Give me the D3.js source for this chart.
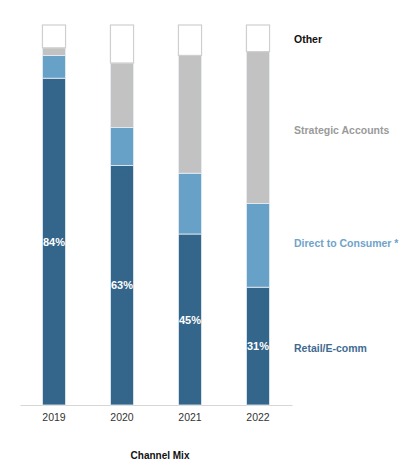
<!DOCTYPE html>
<html>
<head>
<meta charset="utf-8">
<script src="https://cdn.jsdelivr.net/npm/d3@7"></script>
<style>
  html, body { margin: 0; padding: 0; background: #fff; }
  svg { display: block; font-family: "Liberation Sans", Arial, Helvetica, sans-serif; }
</style>
</head>
<body>
<svg id="chart" width="411" height="470"></svg>
<script>
const years = ["2019", "2020", "2021", "2022"];
const retail = [86, 63, 45, 31];
const dtc = [6, 10, 16, 22];
const strategic = [2, 17, 31, 40];
const other = [6, 10, 8, 7];
const retailLabels = ["84%", "63%", "45%", "31%"];
const seriesNames = ["Retail/E-comm", "Direct to Consumer *", "Strategic Accounts", "Other"];
const seriesKeys = ["retail", "dtc", "strategic", "other"];
const chartTitle = "Channel Mix";

const colors = { retail: "#34658a", dtc: "#68a1c8", strategic: "#c2c2c2", other: "#ffffff" };
const legendColors = { retail: "#3e6b91", dtc: "#6fa3c9", strategic: "#9a9a9a", other: "#111111" };

const rows = years.map((y, i) => ({ year: y, retail: retail[i], dtc: dtc[i], strategic: strategic[i], other: other[i] }));
const stacked = d3.stack().keys(seriesKeys)(rows);

const svg = d3.select("#chart");
const x = d3.scaleBand().domain(years).range([20, 292]).paddingInner(0.66).paddingOuter(0.33);
const y = d3.scaleLinear().domain([0, 100]).range([405, 25]);

// axis
const axis = svg.append("g").attr("transform", "translate(0,405)")
  .call(d3.axisBottom(x).tickSize(0).tickPadding(9));
axis.select(".domain").attr("stroke", "#d6d6d6").attr("stroke-width", 1);
axis.selectAll("text").attr("font-size", 10.5).attr("fill", "#333").attr("font-family", "Liberation Sans, Arial, sans-serif");

// bars
const layers = svg.append("g").selectAll("g").data(stacked).join("g")
  .attr("fill", d => colors[d.key]);
layers.selectAll("rect").data(d => d.map(v => Object.assign({ key: d.key }, v))).join("rect")
  .attr("x", d => x(d.data.year))
  .attr("width", x.bandwidth())
  .attr("y", d => y(d[1]))
  .attr("height", d => y(d[0]) - y(d[1]))
  .attr("stroke", d => d.key === "other" ? "#cfcfcf" : "#e8eef3")
  .attr("stroke-width", d => d.key === "other" ? 1.2 : 0.8);

// retail labels
svg.append("g").selectAll("text").data(stacked[0]).join("text")
  .attr("x", d => x(d.data.year) + x.bandwidth() / 2)
  .attr("y", d => (y(d[0]) + y(d[1])) / 2 + 4)
  .attr("text-anchor", "middle")
  .attr("font-size", 11).attr("font-weight", "bold").attr("fill", "#fff")
  .text((d, i) => retailLabels[i]);

// legend labels at right
const legendY = { other: 43, strategic: 134, dtc: 246.5, retail: 352 };
svg.append("g").selectAll("text").data(seriesKeys).join("text")
  .attr("x", 294)
  .attr("y", k => legendY[k])
  .attr("font-size", 10.5).attr("font-weight", "bold")
  .attr("fill", k => legendColors[k])
  .text((k, i) => seriesNames[i]);

// title
svg.append("text").attr("x", 160).attr("y", 459).attr("text-anchor", "middle")
  .attr("font-size", 10).attr("font-weight", "bold").attr("fill", "#111")
  .text(chartTitle);
</script>
</body>
</html>
